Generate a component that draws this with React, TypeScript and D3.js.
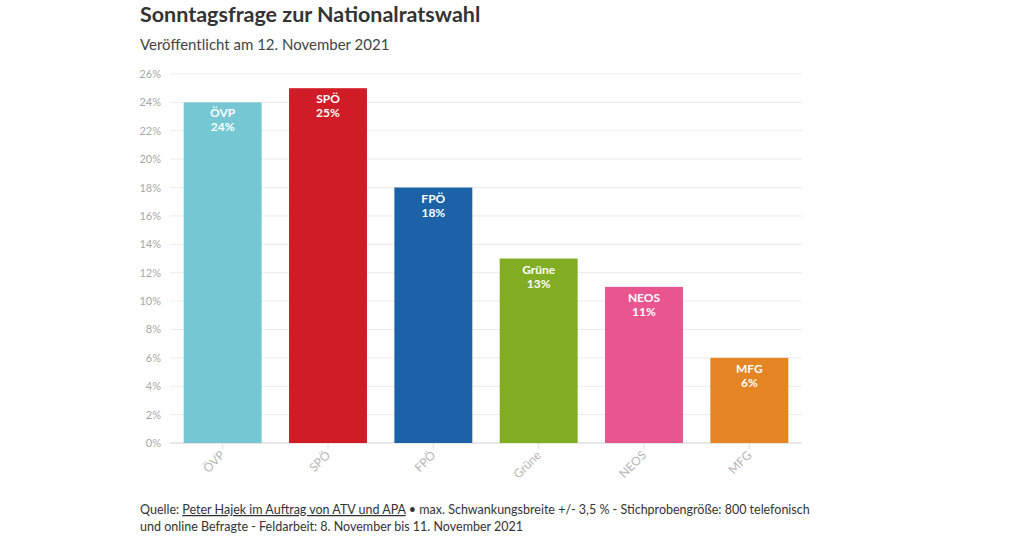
import React from "react";
import * as d3 from "d3";

const parties = ["ÖVP", "SPÖ", "FPÖ", "Grüne", "NEOS", "MFG"];
const values = [24, 25, 18, 13, 11, 6];
const colors = ["#74c7d3", "#d01c26", "#1b63a6", "#80ad22", "#e8558f", "#e38522"];
const yTicks = [0, 2, 4, 6, 8, 10, 12, 14, 16, 18, 20, 22, 24, 26];

const W = 1024;
const H = 537;
const FONT = "'Source Sans Pro', Lato, 'Open Sans', sans-serif";

export default function App() {
  const x = d3.scaleBand<string>().domain(parties).range([170, 802]).paddingInner(0.26).paddingOuter(0.13);
  const y = d3.scaleLinear().domain([0, 26]).range([443, 74]);
  return (
    <svg width={W} height={H} style={{ position: "absolute", left: 0, top: 0, background: "#fff" }} fontFamily={FONT}>
      <text x={140} y={22} fontSize={21.5} fontWeight={700} fill="#333">Sonntagsfrage zur Nationalratswahl</text>
      <text x={140} y={50} fontSize={15} fill="#444">Veröffentlicht am 12. November 2021</text>
      {yTicks.map((t) => (
        <g key={t}>
          <line x1={170} x2={802} y1={y(t)} y2={y(t)} stroke={t === 0 ? "#e0e0e0" : "#ebebeb"} strokeWidth={t === 0 ? 1.5 : 1} />
          <text x={161} y={y(t) + 4} fontSize={11} fill="#a8a8a8" textAnchor="end">{t}%</text>
        </g>
      ))}
      {parties.map((p, i) => {
        const bx = x(p)!;
        const cx = bx + x.bandwidth() / 2;
        return (
          <g key={p}>
            <rect x={bx} y={y(values[i])} width={x.bandwidth()} height={y(0) - y(values[i])} fill={colors[i]} />
            <text x={cx} y={y(values[i]) + 15} fontSize={12} fontWeight={700} fill="#fff" textAnchor="middle">{p}</text>
            <text x={cx} y={y(values[i]) + 29} fontSize={12} fontWeight={700} fill="#fff" textAnchor="middle">{values[i]}%</text>
            <line x1={cx} x2={cx} y1={443} y2={449} stroke="#e0e0e0" />
            <text transform={`translate(${cx + 3},${456}) rotate(-45)`} fontSize={12} fill="#b5b5b5" textAnchor="end">{p}</text>
          </g>
        );
      })}
      <text x={140} y={514} fontSize={12.5} fill="#333">
        Quelle: <tspan textDecoration="underline">Peter Hajek im Auftrag von ATV und APA</tspan> • max. Schwankungsbreite +/- 3,5 % - Stichprobengröße: 800 telefonisch
      </text>
      <text x={140} y={531} fontSize={12.5} fill="#333">und online Befragte - Feldarbeit: 8. November bis 11. November 2021</text>
    </svg>
  );
}
